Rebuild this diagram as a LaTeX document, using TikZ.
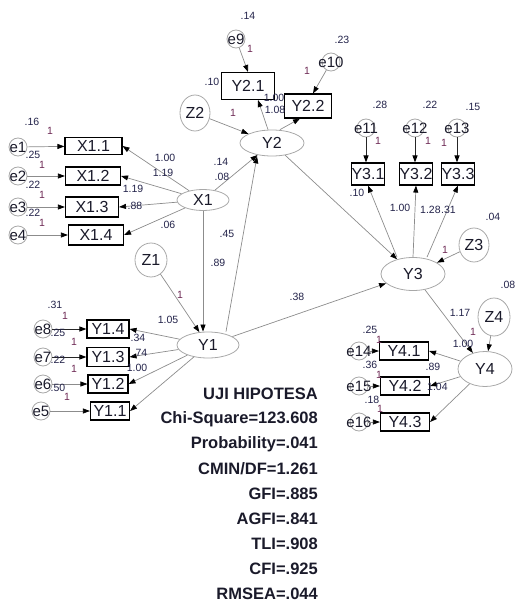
\documentclass[tikz,border=0pt]{standalone}
\usepackage{fontspec}
\setmainfont{Liberation Sans}
\usetikzlibrary{arrows.meta,shapes.geometric}
\definecolor{linec}{HTML}{8C8C8C}
\definecolor{ovalc}{HTML}{A8A8A8}
\definecolor{numc}{HTML}{23234A}
\definecolor{onec}{HTML}{6E2A55}
\definecolor{txtc}{HTML}{1A1A2A}
\tikzset{
  obs/.style={draw=black, line width=1.1pt, rectangle, inner sep=0pt,
    font=\fontsize{16}{16}\selectfont, text=txtc},
  lat/.style={draw=ovalc, line width=0.8pt, ellipse, inner sep=0pt,
    font=\fontsize{16}{16}\selectfont, text=txtc},
  elab/.style={font=\fontsize{15}{15}\selectfont, text=txtc, inner sep=0pt},
  err/.style={draw=ovalc, line width=0.8pt, circle, inner sep=0pt, minimum size=18pt},
  conn/.style={draw=linec, line width=0.7pt, -{Triangle[length=7pt,width=5pt,color=black]}},
  connd/.style={draw=black!85, line width=1pt, -{Triangle[length=7pt,width=5pt,color=black]}},
  num/.style={font=\fontsize{10.5}{10.5}\selectfont, text=numc, inner sep=0pt},
  one/.style={font=\fontsize{10.5}{10.5}\selectfont, text=onec, inner sep=0pt},
  stat/.style={font=\fontsize{16.5}{16.5}\selectfont\bfseries, text=txtc, inner sep=0pt, anchor=east},
}
\begin{document}
\begin{tikzpicture}[x=1pt,y=-1pt]
\useasboundingbox (0,0) rectangle (517,610);

% ---------- latent variables ----------
\node[lat, minimum width=52pt, minimum height=21pt] (X1) at (203,200) {X1};
\node[lat, minimum width=64pt, minimum height=26pt] (Y2) at (272,143) {Y2};
\node[lat, minimum width=62pt, minimum height=26pt] (Y1) at (208,345) {Y1};
\node[lat, minimum width=64pt, minimum height=33pt] (Y3) at (413,274) {Y3};
\node[lat, minimum width=54pt, minimum height=35pt] (Y4) at (485,369) {Y4};
% disturbances
\node[lat, minimum width=30pt, minimum height=36pt] (Z2) at (195,113) {Z2};
\node[lat, minimum width=32pt, minimum height=34pt] (Z1) at (151,260) {Z1};
\node[lat, minimum width=30pt, minimum height=34pt] (Z3) at (474,245) {Z3};
\node[lat, minimum width=32pt, minimum height=38pt] (Z4) at (494,317) {Z4};

% ---------- indicators ----------
\node[obs, minimum width=57pt, minimum height=17pt] (X11) at (93.5,146) {X1.1};
\node[obs, minimum width=55pt, minimum height=18pt] (X12) at (93,176) {X1.2};
\node[obs, minimum width=53pt, minimum height=20pt] (X13) at (92,207) {X1.3};
\node[obs, minimum width=55pt, minimum height=20pt] (X14) at (96,235) {X1.4};

\node[obs, minimum width=53pt, minimum height=27pt] (Y21) at (248,86) {Y2.1};
\node[obs, minimum width=47pt, minimum height=24pt] (Y22) at (308,106) {Y2.2};

\node[obs, minimum width=33pt, minimum height=22pt] (Y31) at (368,174) {Y3.1};
\node[obs, minimum width=32pt, minimum height=22pt] (Y32) at (416,174) {Y3.2};
\node[obs, minimum width=32pt, minimum height=22pt] (Y33) at (458,174) {Y3.3};

\node[obs, minimum width=42pt, minimum height=18pt] (Y14) at (108,329) {Y1.4};
\node[obs, minimum width=42pt, minimum height=19pt] (Y13) at (108,357) {Y1.3};
\node[obs, minimum width=40pt, minimum height=18pt] (Y12) at (108,384) {Y1.2};
\node[obs, minimum width=39pt, minimum height=18pt] (Y11) at (110,411) {Y1.1};

\node[obs, minimum width=49pt, minimum height=18pt] (Y41) at (404,351) {Y4.1};
\node[obs, minimum width=49pt, minimum height=18pt] (Y42) at (405,386) {Y4.2};
\node[obs, minimum width=49pt, minimum height=18pt] (Y43) at (405,422) {Y4.3};

% ---------- error terms ----------
\node[err, label={[elab]center:e1}] (e1) at (18,147) {};
\node[err, label={[elab]center:e2}] (e2) at (18,176) {};
\node[err, label={[elab]center:e3}] (e3) at (18,207) {};
\node[err, label={[elab]center:e4}] (e4) at (18,235) {};
\node[err, label={[elab]center:e9}] (e9) at (236,39) {};
\node[err, label={[elab]center:e10}] (e10) at (331,62) {};
\node[err, label={[elab]center:e11}] (e11) at (366,128) {};
\node[err, label={[elab]center:e12}] (e12) at (415,128) {};
\node[err, label={[elab]center:e13}] (e13) at (457,128) {};
\node[err, label={[elab]center:e8}] (e8) at (43,329) {};
\node[err, label={[elab]center:e7}] (e7) at (43,357) {};
\node[err, label={[elab]center:e6}] (e6) at (43,384) {};
\node[err, label={[elab]center:e5}] (e5) at (41,411) {};
\node[err, label={[elab]center:e14}] (e14) at (359,351) {};
\node[err, label={[elab]center:e15}] (e15) at (359,386) {};
\node[err, label={[elab]center:e16}] (e16) at (359,422) {};

% ---------- paths ----------
\draw[conn] (e1) -- (X11);
\draw[conn] (e2) -- (X12);
\draw[conn] (e3) -- (X13);
\draw[conn] (e4) -- (X14);
\draw[conn] (X1) -- (X11.east);
\draw[conn] (X1) -- (X12.east);
\draw[conn] (X1) -- (X13.east);
\draw[conn] (X1) -- (X14.east);

\draw[conn] (X1) -- (Y2);
\draw[conn] (X1.south) -- (X1.south |- Y1.north);
\draw[conn] ([xshift=18pt]Y1.north) -- ([xshift=-15pt]Y2.south);
\draw[conn] (Z2) -- (Y2);
\draw[conn] (Z1) -- (Y1);

\draw[conn] (e9) -- (Y21.north);
\draw[conn] (e10) -- ([xshift=5pt]Y22.north);
\draw[conn] ([xshift=-4pt]Y2.north) -- ([xshift=10pt]Y21.south);
\draw[conn] ([xshift=8pt]Y2.north) -- ([xshift=-8pt]Y22.south);

\draw[conn] (Y2) -- (Y3);
\draw[conn] (Y1) -- (Y3);
\draw[conn] (Z3) -- (Y3);
\draw[conn] ([xshift=-16pt]Y3.north) -- (Y31.south);
\draw[conn] (Y3.north) -- (Y32.south);
\draw[conn] ([xshift=14pt]Y3.north) -- (Y33.south);
\draw[connd] (e11) -- (e11 |- Y31.north);
\draw[connd] (e12) -- (e12 |- Y32.north);
\draw[connd] (e13) -- (e13 |- Y33.north);

\draw[conn] (Y3) -- (Y4);
\draw[conn] (Z4) -- (Y4);
\draw[conn] (Y4) -- (Y41.east);
\draw[conn] (Y4) -- (Y42.east);
\draw[conn] (Y4) -- (Y43.east);
\draw[conn] (e14) -- (Y41);
\draw[conn] (e15) -- (Y42);
\draw[conn] (e16) -- (Y43);

\draw[conn] (Y1) -- (Y14.east);
\draw[conn] (Y1) -- (Y13.east);
\draw[conn] (Y1) -- (Y12.east);
\draw[conn] (Y1) -- (Y11.east);
\draw[connd] (e8) -- (Y14);
\draw[connd] (e7) -- (Y13);
\draw[conn] (e6) -- (Y12);
\draw[conn] (e5) -- (Y11);

% ---------- estimates ----------
\node[num] (n1) at (32,122) {.16};  \node[one] (o1) at (50,131) {1};
\node[num] (n2) at (33,155) {.25};  \node[one] (o2) at (42,165) {1};
\node[num] (n3) at (33,185) {.22};  \node[one] (o3) at (42,195) {1};
\node[num] (n4) at (33,213) {.22};  \node[one] (o4) at (42,223) {1};
\node[num] (n5) at (165,158) {1.00};
\node[num] (n6) at (163,173) {1.19};
\node[num] (n7) at (133,189) {1.19};
\node[num] (n8) at (135,206) {.88};
\node[num] (n9) at (168,225) {.06};
\node[num] (n10) at (221,162) {.14};
\node[num] (n11) at (222,177) {.08};
\node[num] (n12) at (227,234) {.45};
\node[num] (n13) at (218,263) {.89};
\node[num] (n14) at (297,297) {.38};

\node[num] (n15) at (248,16) {.14};  \node[one] (o5) at (250,49) {1};
\node[num] (n16) at (342,40) {.23};  \node[one] (o6) at (307,71) {1};
\node[num] (n17) at (212,82) {.10};
\node[one] (o7) at (233,113) {1};
\node[num] (n18) at (274,98) {1.00};
\node[num] (n19) at (275,110) {1.08};

\node[num] (n20) at (380,105) {.28}; \node[one] (o8) at (378,141) {1};
\node[num] (n21) at (430,105) {.22}; \node[one] (o9) at (428,141) {1};
\node[num] (n22) at (473,107) {.15}; \node[one] (o10) at (444,143) {1};
\node[num] (n23) at (357,193) {.10};
\node[num] (n24) at (400,208) {1.00};
\node[num, anchor=west] (n25) at (420,210) {1.28};
\node[num, anchor=west] (n26) at (441,210) {.31};
\node[num] (n27) at (493,217) {.04};
\node[one] (o11) at (445,250) {1};

\node[num] (n28) at (508,285) {.08};
\node[num] (n29) at (460,313) {1.17};
\node[one] (o12) at (473,332) {1};
\node[num] (n30) at (463,344) {1.00};
\node[num] (n31) at (370,330) {.25}; \node[one] (o13) at (379,340) {1};
\node[num] (n32) at (370,365) {.36}; \node[one] (o14) at (379,375) {1};
\node[num] (n33) at (372,400) {.18}; \node[one] (o15) at (380,409) {1};
\node[num] (n34) at (433,367) {.89};
\node[num, anchor=west] (n35) at (427,387) {1.04};

\node[num] (n36) at (55,305) {.31}; \node[one] (o16) at (65,316) {1};
\node[num] (n37) at (58,333) {.25}; \node[one] (o17) at (74,342) {1};
\node[num] (n38) at (58,360) {.22}; \node[one] (o18) at (74,369) {1};
\node[num] (n39) at (58,388) {.50}; \node[one] (o19) at (67,397) {1};
\node[num] (n40) at (168,320) {1.05};
\node[one] (o20) at (180,295) {1};
\node[num] (n41) at (138,338) {.34};
\node[num] (n42) at (140,353) {.74};
\node[num] (n43) at (137,368) {1.00};

% ---------- fit statistics ----------
\node[stat] (s1) at (318,394) {UJI HIPOTESA};
\node[stat] (s2) at (318,419) {Chi-Square=123.608};
\node[stat] (s3) at (318,444) {Probability=.041};
\node[stat] (s4) at (318,469) {CMIN/DF=1.261};
\node[stat] (s5) at (318,494) {GFI=.885};
\node[stat] (s6) at (318,519) {AGFI=.841};
\node[stat] (s7) at (318,544) {TLI=.908};
\node[stat] (s8) at (318,569) {CFI=.925};
\node[stat] (s9) at (318,594) {RMSEA=.044};
\end{tikzpicture}
\end{document}
